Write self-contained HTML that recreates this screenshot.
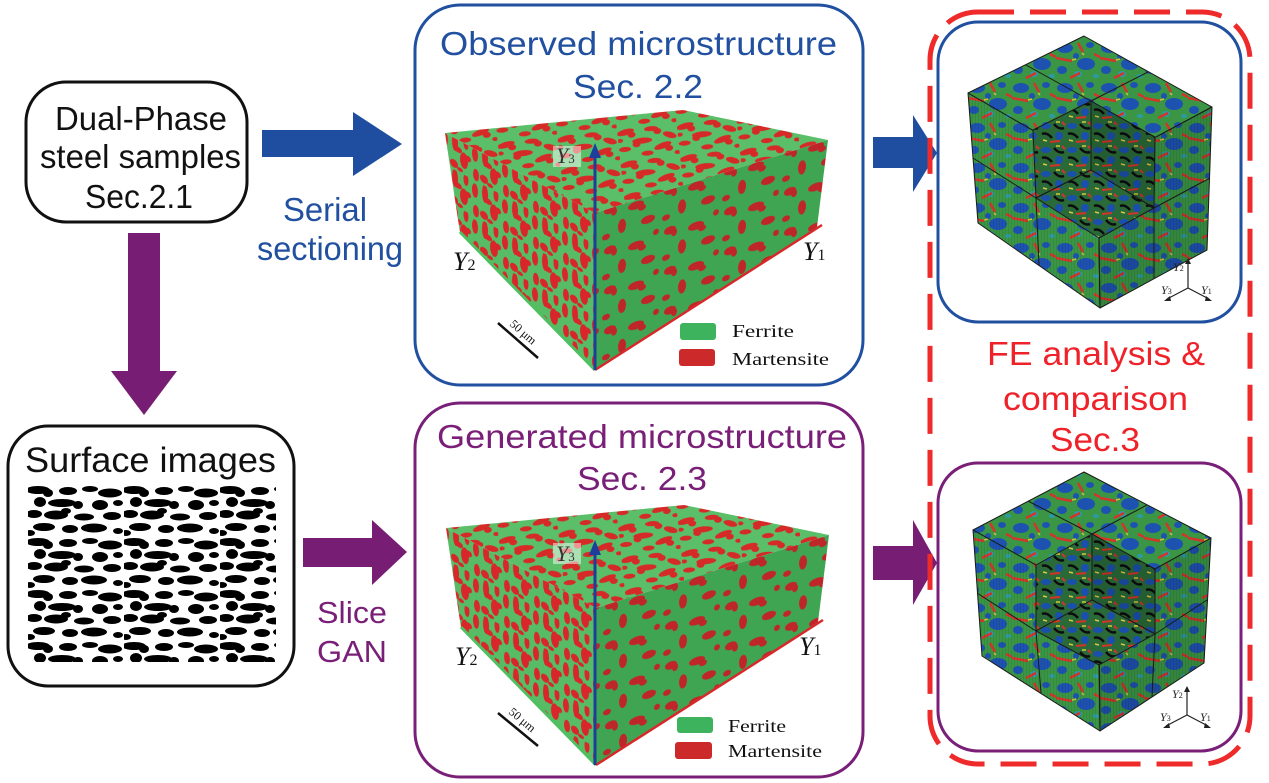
<!DOCTYPE html>
<html><head><meta charset="utf-8"><style>
html,body{margin:0;padding:0;background:#fff;width:1269px;height:783px;overflow:hidden}
svg{display:block}
.s{font-family:"Liberation Sans",Arial,sans-serif}
.r{font-family:"Liberation Serif","Times New Roman",serif}
</style></head><body>
<svg width="1269" height="783" viewBox="0 0 1269 783" xmlns="http://www.w3.org/2000/svg">
<defs>
<pattern id="mT" width="60" height="32" patternUnits="userSpaceOnUse" patternTransform="rotate(-6)">
<rect width="60" height="32" fill="#5bbf69"/>
<g fill="#d62a28">
<ellipse cx="8" cy="5" rx="9" ry="3" transform="rotate(-10 8 5)"/><ellipse cx="14" cy="8" rx="4" ry="3"/>
<ellipse cx="34" cy="4" rx="7" ry="2.5"/><ellipse cx="40" cy="7" rx="4" ry="3"/>
<ellipse cx="52" cy="12" rx="7" ry="3" transform="rotate(20 52 12)"/><ellipse cx="24" cy="15" rx="10" ry="3"/>
<ellipse cx="18" cy="18" rx="4" ry="3"/><ellipse cx="6" cy="22" rx="6" ry="2.5"/>
<ellipse cx="44" cy="22" rx="9" ry="3" transform="rotate(-15 44 22)"/><ellipse cx="50" cy="25" rx="4" ry="3"/>
<ellipse cx="28" cy="28" rx="6" ry="2.5"/><ellipse cx="58" cy="30" rx="3" ry="2"/><ellipse cx="2" cy="13" rx="3" ry="2"/>
</g></pattern>
<pattern id="mL" width="30" height="36" patternUnits="userSpaceOnUse" patternTransform="skewY(28)">
<rect width="30" height="36" fill="#58bb66"/>
<g fill="#d8262a">
<ellipse cx="5" cy="8" rx="3" ry="9"/><ellipse cx="8" cy="14" rx="4" ry="3"/>
<ellipse cx="16" cy="4" rx="2.5" ry="6"/><ellipse cx="14" cy="22" rx="4" ry="8"/>
<ellipse cx="18" cy="18" rx="3" ry="3"/><ellipse cx="25" cy="10" rx="3" ry="7"/>
<ellipse cx="26" cy="30" rx="3" ry="6"/><ellipse cx="4" cy="30" rx="4" ry="4"/><ellipse cx="10" cy="33" rx="3" ry="2"/>
</g></pattern>
<pattern id="mR" width="60" height="40" patternUnits="userSpaceOnUse" patternTransform="skewY(-18)">
<rect width="60" height="40" fill="#3fa552"/>
<g fill="#bf2629">
<ellipse cx="10" cy="8" rx="6" ry="4"/><ellipse cx="14" cy="11" rx="3" ry="4"/>
<ellipse cx="36" cy="12" rx="8" ry="4"/><ellipse cx="42" cy="16" rx="4" ry="3"/>
<ellipse cx="22" cy="28" rx="4" ry="7"/><ellipse cx="48" cy="30" rx="7" ry="4"/>
<ellipse cx="6" cy="34" rx="4" ry="3"/><ellipse cx="56" cy="5" rx="3" ry="3"/>
</g></pattern>
<pattern id="surf" width="96" height="52" patternUnits="userSpaceOnUse" patternTransform="translate(28,485)">
<rect width="96" height="52" fill="#fff"/>
<g fill="#000">
<ellipse cx="10" cy="5" rx="12" ry="4"/><ellipse cx="20" cy="8" rx="5" ry="4"/>
<ellipse cx="40" cy="6" rx="9" ry="4"/><ellipse cx="62" cy="4" rx="8" ry="3"/>
<ellipse cx="82" cy="8" rx="12" ry="4.5"/><ellipse cx="12" cy="17" rx="6" ry="5"/>
<ellipse cx="34" cy="18" rx="14" ry="4"/><ellipse cx="50" cy="20" rx="5" ry="4"/>
<ellipse cx="72" cy="20" rx="8" ry="5"/><ellipse cx="90" cy="18" rx="5" ry="3"/>
<ellipse cx="6" cy="29" rx="8" ry="4"/><ellipse cx="28" cy="30" rx="12" ry="4.5"/>
<ellipse cx="56" cy="32" rx="10" ry="3.5"/><ellipse cx="84" cy="31" rx="9" ry="4"/>
<ellipse cx="16" cy="42" rx="11" ry="4"/><ellipse cx="42" cy="44" rx="8" ry="4"/>
<ellipse cx="66" cy="43" rx="13" ry="4.5"/><ellipse cx="90" cy="46" rx="5" ry="3"/>
<ellipse cx="38" cy="26" rx="5" ry="3"/><ellipse cx="2" cy="48" rx="5" ry="3"/>
</g></pattern>
<pattern id="fe" width="44" height="40" patternUnits="userSpaceOnUse">
<rect width="44" height="40" fill="#3a9545"/>
<g fill="#1e52b0">
<ellipse cx="9" cy="8" rx="8" ry="5"/><ellipse cx="30" cy="24" rx="9" ry="6"/>
<ellipse cx="34" cy="5" rx="4" ry="3"/><ellipse cx="6" cy="30" rx="5" ry="4"/><ellipse cx="20" cy="16" rx="3" ry="3"/>
</g>
<ellipse cx="22" cy="34" rx="4" ry="3" fill="#2b9aa8"/>
<ellipse cx="40" cy="36" rx="3" ry="2" fill="#2b9aa8"/>
<path d="M0 18 L16 21 M14 38 L24 33 M22 3 L27 12 M38 14 L44 17" stroke="#d3352a" stroke-width="2.5"/>
<path d="M16 20 L20 19 M26 13 L28 15" stroke="#d3c33a" stroke-width="1.5"/>
</pattern>
<pattern id="fecut" width="26" height="24" patternUnits="userSpaceOnUse">
<rect width="26" height="24" fill="#2a6a38"/>
<ellipse cx="6" cy="6" rx="5" ry="3" fill="#1b4fae"/>
<ellipse cx="19" cy="16" rx="4" ry="4" fill="#1b4fae"/>
<path d="M2 14 Q7 12 12 18 M14 4 Q19 10 24 8" stroke="#0c0c0c" stroke-width="2.5" fill="none"/>
<path d="M10 22 L20 21 M22 2 L25 5" stroke="#d3332a" stroke-width="2"/>
<path d="M16 2 L20 2 M3 20 L7 21" stroke="#d8c83a" stroke-width="1.5"/>
</pattern>
<pattern id="mesh" width="3" height="3" patternUnits="userSpaceOnUse"><path d="M0.5 0 V3" stroke="#000" stroke-width=".5" opacity=".15"/></pattern>
</defs>
<rect width="1269" height="783" fill="#fff"/>

<!-- Left column -->
<rect x="26" y="82" width="221" height="140" rx="40" fill="none" stroke="#111" stroke-width="3"/>
<g class="s" font-size="33" fill="#111">
<text x="55" y="130" textLength="172" lengthAdjust="spacingAndGlyphs">Dual-Phase</text>
<text x="40" y="168" textLength="201" lengthAdjust="spacingAndGlyphs">steel samples</text>
<text x="85" y="208" textLength="108" lengthAdjust="spacingAndGlyphs">Sec.2.1</text>
</g>
<polygon points="128,233 160,233 160,371 177,371 144,415 111,371 128,371" fill="#781d74"/>
<rect x="8" y="426" width="286" height="260" rx="40" fill="none" stroke="#111" stroke-width="3"/>
<text class="s" x="25" y="472" font-size="35" fill="#111" textLength="251" lengthAdjust="spacingAndGlyphs">Surface images</text>
<rect x="28" y="485" width="248" height="177" fill="url(#surf)"/>

<!-- arrows -->
<polygon points="262,130 353,130 353,112 402,144 353,176 353,157 262,157" fill="#1f4ea0"/>
<g class="s" font-size="33" fill="#2150a0">
<text x="283" y="221" textLength="84" lengthAdjust="spacingAndGlyphs">Serial</text>
<text x="257" y="260" textLength="146" lengthAdjust="spacingAndGlyphs">sectioning</text>
</g>
<polygon points="303,538 372,538 372,520 407,552 372,585 372,567 303,567" fill="#781d74"/>
<g class="s" font-size="31" fill="#7a1f78">
<text x="317" y="623" textLength="70" lengthAdjust="spacingAndGlyphs">Slice</text>
<text x="317" y="662" textLength="70" lengthAdjust="spacingAndGlyphs">GAN</text>
</g>
<polygon points="873,137 913,137 913,115 937,153 913,192 913,168 873,168" fill="#1f4ea0"/>
<polygon points="873,546 913,546 913,520 937,563 913,605 913,580 873,580" fill="#781d74"/>

<!-- Observed box -->
<rect x="415" y="5" width="448" height="380" rx="45" fill="none" stroke="#2150a0" stroke-width="3"/>
<g class="s" font-size="33" fill="#2150a0">
<text x="440" y="55" textLength="397" lengthAdjust="spacingAndGlyphs">Observed microstructure</text>
<text x="573" y="98" textLength="130" lengthAdjust="spacingAndGlyphs">Sec. 2.2</text>
</g>
<g>
<polygon points="445,133 683,110 828,140 595,213" fill="url(#mT)"/>
<polygon points="445,133 595,213 595,370 460,233" fill="url(#mL)"/>
<polygon points="595,213 828,140 817,227 595,370" fill="url(#mR)"/>
<line x1="460" y1="232" x2="595" y2="370" stroke="#4fc060" stroke-width="3"/>
<line x1="595" y1="370" x2="822" y2="225" stroke="#d8282a" stroke-width="2.5"/>
<line x1="595" y1="370" x2="595" y2="156" stroke="#1b3f9a" stroke-width="3"/>
<polygon points="589,158 601,158 595,143" fill="#1b3f9a"/>
<rect x="553" y="146" width="28" height="21" fill="#fff" opacity=".5"/>
<text class="r" x="556" y="163" font-size="22" font-style="italic" fill="#333">Y<tspan font-size="13" font-style="normal">3</tspan></text>
<text class="r" x="453" y="270" font-size="26" font-style="italic" fill="#111">Y<tspan font-size="16" font-style="normal">2</tspan></text>
<text class="r" x="803" y="260" font-size="26" font-style="italic" fill="#111">Y<tspan font-size="16" font-style="normal">1</tspan></text>
<line x1="498" y1="323" x2="538" y2="358" stroke="#111" stroke-width="2.5"/>
<text class="r" transform="translate(509,325) rotate(41)" font-size="12" fill="#111">50 μm</text>
<rect x="680" y="323" width="36" height="17" rx="3" fill="#3db35d"/>
<rect x="679" y="349" width="36" height="17" rx="3" fill="#cc2a2a"/>
<text class="r" x="732" y="337" font-size="18" fill="#111" textLength="62" lengthAdjust="spacingAndGlyphs">Ferrite</text>
<text class="r" x="732" y="365" font-size="18" fill="#111" textLength="97" lengthAdjust="spacingAndGlyphs">Martensite</text>
</g>

<!-- Generated box -->
<rect x="415" y="403" width="448" height="374" rx="45" fill="none" stroke="#7a1f78" stroke-width="3"/>
<g class="s" font-size="33" fill="#7a1f78">
<text x="437" y="448" textLength="410" lengthAdjust="spacingAndGlyphs">Generated microstructure</text>
<text x="577" y="490" textLength="130" lengthAdjust="spacingAndGlyphs">Sec. 2.3</text>
</g>
<g transform="translate(1,395)">
<polygon points="445,133 683,110 828,140 595,213" fill="url(#mT)"/>
<polygon points="445,133 595,213 595,370 460,233" fill="url(#mL)"/>
<polygon points="595,213 828,140 817,227 595,370" fill="url(#mR)"/>
<line x1="460" y1="232" x2="595" y2="370" stroke="#4fc060" stroke-width="3"/>
<line x1="595" y1="370" x2="822" y2="225" stroke="#d8282a" stroke-width="2.5"/>
<line x1="594" y1="370" x2="594" y2="158" stroke="#1b3f9a" stroke-width="3"/>
<polygon points="588,160 600,160 594,145" fill="#1b3f9a"/>
<rect x="552" y="148" width="28" height="21" fill="#fff" opacity=".5"/>
<text class="r" x="555" y="166" font-size="22" font-style="italic" fill="#333">Y<tspan font-size="13" font-style="normal">3</tspan></text>
<text class="r" x="454" y="270" font-size="26" font-style="italic" fill="#111">Y<tspan font-size="16" font-style="normal">2</tspan></text>
<text class="r" x="798" y="260" font-size="26" font-style="italic" fill="#111">Y<tspan font-size="16" font-style="normal">1</tspan></text>
<line x1="497" y1="318" x2="537" y2="351" stroke="#111" stroke-width="2.5"/>
<text class="r" transform="translate(507,318) rotate(40)" font-size="12" fill="#111">50 μm</text>
<rect x="676" y="322" width="36" height="16" rx="3" fill="#3db35d"/>
<rect x="674" y="347" width="37" height="17" rx="3" fill="#cc2a2a"/>
<text class="r" x="727" y="337" font-size="18" fill="#111" textLength="58" lengthAdjust="spacingAndGlyphs">Ferrite</text>
<text class="r" x="727" y="362" font-size="18" fill="#111" textLength="94" lengthAdjust="spacingAndGlyphs">Martensite</text>
</g>

<!-- FE top cube -->
<rect x="938" y="22" width="303" height="300" rx="40" fill="none" stroke="#2150a0" stroke-width="3"/>
<g stroke="#1a1a1a" stroke-width="1" stroke-linejoin="round">
<polygon points="1084,36 1212,107 1098,168 968,93" fill="url(#fe)"/>
<polygon points="968,93 1098,168 1100,308 978,223" fill="url(#fe)"/>
<polygon points="968,93 1098,168 1100,308 978,223" fill="url(#mesh)" stroke="none"/>
<polygon points="1098,168 1212,107 1207,250 1100,308" fill="url(#fe)"/>
<polygon points="1098,168 1212,107 1207,250 1100,308" fill="#000" opacity=".1" stroke="none"/>
<polygon points="1098,168 1212,107 1207,250 1100,308" fill="url(#mesh)" stroke="none"/>
<polygon points="1033,130 1091,101 1091,170 1036,198" fill="url(#fecut)"/>
<polygon points="1155,137 1091,101 1091,170 1154,208" fill="url(#fecut)"/>
<polygon points="1155,137 1091,101 1091,170 1154,208" fill="#000" opacity=".12" stroke="none"/>
<polygon points="1099,238 1036,198 1091,170 1154,208" fill="url(#fecut)"/>
<g fill="none">
<line x1="973" y1="158" x2="1036" y2="198"/><line x1="1036" y1="198" x2="1039" y2="265"/>
<line x1="1154" y1="208" x2="1210" y2="178"/><line x1="1154" y1="208" x2="1154" y2="279"/>
<line x1="1091" y1="101" x2="1026" y2="65"/><line x1="1091" y1="101" x2="1148" y2="72"/>
<line x1="1099" y1="238" x2="1100" y2="308"/>
</g>
</g>
<g stroke="#222" stroke-width="1.2" fill="#222">
<line x1="1188" y1="288" x2="1188" y2="262"/><polygon points="1185,264 1191,264 1188,258" stroke="none"/>
<line x1="1188" y1="288" x2="1167" y2="299"/><polygon points="1164,301 1170,296 1171,301" stroke="none"/>
<line x1="1188" y1="288" x2="1209" y2="299"/><polygon points="1212,301 1206,296 1205,301" stroke="none"/>
</g>
<g class="r" font-size="12" font-style="italic" fill="#222">
<text x="1173" y="271">Y<tspan font-size="8" font-style="normal">2</tspan></text>
<text x="1161" y="294">Y<tspan font-size="8" font-style="normal">3</tspan></text>
<text x="1201" y="294">Y<tspan font-size="8" font-style="normal">1</tspan></text>
</g>

<!-- FE text -->
<g class="s" font-size="33" fill="#ee2228">
<text x="987" y="365" textLength="218" lengthAdjust="spacingAndGlyphs">FE analysis &amp;</text>
<text x="1003" y="410" textLength="185" lengthAdjust="spacingAndGlyphs">comparison</text>
<text x="1050" y="451" textLength="90" lengthAdjust="spacingAndGlyphs">Sec.3</text>
</g>

<!-- FE bottom cube -->
<rect x="938" y="463" width="303" height="288" rx="40" fill="none" stroke="#7a1f78" stroke-width="3"/>
<g stroke="#1a1a1a" stroke-width="1" stroke-linejoin="round">
<polygon points="1084,472 1211,538 1099,600 973,530" fill="url(#fe)"/>
<polygon points="973,530 1099,600 1100,731 982,656" fill="url(#fe)"/>
<polygon points="973,530 1099,600 1100,731 982,656" fill="url(#mesh)" stroke="none"/>
<polygon points="1099,600 1211,538 1204,663 1100,731" fill="url(#fe)"/>
<polygon points="1099,600 1211,538 1204,663 1100,731" fill="#000" opacity=".1" stroke="none"/>
<polygon points="1099,600 1211,538 1204,663 1100,731" fill="url(#mesh)" stroke="none"/>
<polygon points="1036,565 1092,534 1092,600 1036,631" fill="url(#fecut)"/>
<polygon points="1155,569 1092,534 1092,600 1155,634" fill="url(#fecut)"/>
<polygon points="1155,569 1092,534 1092,600 1155,634" fill="#000" opacity=".12" stroke="none"/>
<polygon points="1099,665 1036,631 1092,600 1155,634" fill="url(#fecut)"/>
<g fill="none">
<line x1="977" y1="593" x2="1036" y2="631"/><line x1="1036" y1="631" x2="1041" y2="693"/>
<line x1="1155" y1="634" x2="1207" y2="600"/><line x1="1155" y1="634" x2="1152" y2="697"/>
<line x1="1092" y1="534" x2="1028" y2="501"/><line x1="1092" y1="534" x2="1147" y2="505"/>
<line x1="1099" y1="665" x2="1100" y2="731"/>
</g>
</g>
<g stroke="#222" stroke-width="1.2" fill="#222">
<line x1="1187" y1="715" x2="1187" y2="690"/><polygon points="1184,692 1190,692 1187,686" stroke="none"/>
<line x1="1187" y1="715" x2="1166" y2="726"/><polygon points="1163,728 1169,723 1170,728" stroke="none"/>
<line x1="1187" y1="715" x2="1208" y2="726"/><polygon points="1211,728 1205,723 1204,728" stroke="none"/>
</g>
<g class="r" font-size="12" font-style="italic" fill="#222">
<text x="1172" y="698">Y<tspan font-size="8" font-style="normal">2</tspan></text>
<text x="1160" y="721">Y<tspan font-size="8" font-style="normal">3</tspan></text>
<text x="1200" y="721">Y<tspan font-size="8" font-style="normal">1</tspan></text>
</g>

<!-- dashed red frame -->
<rect x="930" y="12" width="320" height="752" rx="48" fill="none" stroke="#ee2a2a" stroke-width="5" stroke-dasharray="36 16"/>
</svg>
</body></html>
